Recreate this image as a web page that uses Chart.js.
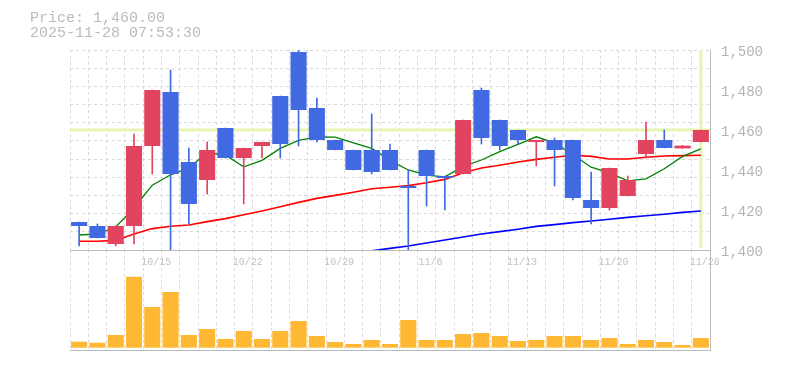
<!DOCTYPE html>
<html lang="ja">
<head>
  <meta charset="UTF-8">
  <title>Price chart</title>
  <script src="https://cdn.jsdelivr.net/npm/chart.js"></script>
  <style>
    * { box-sizing: border-box; }
    body {
      margin: 0;
      padding: 0;
      background: #ffffff;
    }
    .wrap {
      position: relative;
      width: 785px;
      height: 370px;
      overflow: hidden;
    }
    .wrap canvas { position: absolute; left: 0; }
    #priceChart { top: 0; z-index: 2; }
    #volChart { top: 250px; z-index: 1; }
    .info {
      position: absolute;
      left: 30px;
      top: 11px;
      font-family: "Liberation Mono", "DejaVu Sans Mono", monospace;
      font-size: 15px;
      line-height: 15px;
      color: #bbbbbb;
      white-space: pre;
      z-index: 3;
    }
  </style>
</head>
<body>
  <div class="wrap">
    <div class="info">Price: 1,460.00
2025-11-28 07:53:30</div>
    <canvas id="volChart" width="785" height="101"></canvas>
    <canvas id="priceChart" width="785" height="270"></canvas>
  </div>

  <script>
    const dates = ['10/8','10/9','10/10','10/14','10/15','10/16','10/17','10/20','10/21','10/22',
      '10/23','10/24','10/27','10/28','10/29','10/30','10/31','11/4','11/5','11/6',
      '11/7','11/10','11/11','11/12','11/13','11/14','11/17','11/18','11/19','11/20',
      '11/21','11/25','11/26','11/27','11/28'];

    const opens  = [1414, 1412, 1403, 1412, 1452, 1479, 1444, 1435, 1461, 1446,
      1452, 1477, 1499, 1471, 1455, 1450, 1450, 1450, 1432, 1450,
      1437, 1438, 1480, 1465, 1460, 1454, 1455, 1455, 1425, 1421,
      1427, 1448, 1455, 1450.8, 1454];
    const highs  = [1414, 1413, 1412, 1458, 1480, 1490, 1451, 1454, 1461, 1451,
      1454, 1477, 1500, 1476, 1455, 1450, 1468, 1453, 1440, 1450,
      1437, 1465, 1481, 1465, 1460, 1455, 1456, 1455, 1439, 1441,
      1437, 1464, 1460, 1452.2, 1460];
    const lows   = [1402, 1406, 1402, 1403, 1438, 1398, 1413, 1428, 1446, 1423,
      1446, 1446, 1452, 1454, 1450, 1440, 1438, 1440, 1398, 1422,
      1420, 1438, 1453, 1450, 1453, 1442, 1432, 1425, 1413, 1420,
      1427, 1446, 1451, 1450.8, 1454];
    const closes = [1412, 1406, 1412, 1452, 1480, 1438, 1423, 1450, 1446, 1451,
      1454, 1453, 1470, 1455, 1450, 1440, 1439, 1440, 1431, 1437,
      1436, 1465, 1456, 1452, 1455, 1455, 1450, 1426, 1421, 1441,
      1435, 1455, 1451, 1452.2, 1460];

    const ma5  = [1407.5, 1408, 1411.5, 1421, 1432.4, 1437.6, 1441, 1448.6, 1447.4, 1441.6,
      1444.8, 1450.8, 1454.8, 1456.6, 1456.4, 1453.6, 1450.8, 1444.8, 1440, 1437.4,
      1436.6, 1441.8, 1445, 1449.2, 1452.8, 1456.6, 1453.6, 1447.6, 1441.4, 1438.6,
      1434.6, 1435.6, 1440.6, 1446.8, 1450.6];
    const ma25 = [1404.4, 1404.4, 1404.8, 1408, 1410.7, 1411.9, 1412.5, 1414.2, 1415.7, 1417.6,
      1419.5, 1421.6, 1423.8, 1425.8, 1427.3, 1428.9, 1430.6, 1431.4, 1432.2, 1433.6,
      1435.3, 1438.6, 1441, 1442.4, 1444, 1445.3, 1446.4, 1447.4, 1446.8, 1445.5,
      1445.5, 1446.4, 1447, 1447.2, 1447.4];
    const ma75 = [null, null, null, null, null, null, null, null, null, null,
      null, null, null, null, null, 1398, 1399.6, 1400.8, 1402, 1403.5,
      1405, 1406.5, 1408, 1409.2, 1410.4, 1411.8, 1412.7, 1413.7, 1414.5, 1415.4,
      1416.3, 1417.1, 1417.9, 1418.8, 1419.5];

    const volumes = [6000, 5000, 12700, 71000, 40700, 55700, 12700, 18700, 8700, 16700,
      8700, 16700, 26700, 11700, 5700, 3700, 7700, 3700, 27700, 7700,
      7700, 13700, 14700, 11700, 6700, 7700, 11700, 11700, 7700, 9700,
      3700, 7700, 5700, 2700, 9700];

    const priceTicks = [1400, 1420, 1440, 1460, 1480, 1500];
    const lastPrice = 1460;

    const UP = '#e2445f';
    const DOWN = '#4169e1';
    const GRID = '#dadada';
    const AXIS = '#bbbbbb';
    const MONO = '"Liberation Mono", "DejaVu Sans Mono", monospace';

    const candleColors = closes.map((c, i) => c >= opens[i] ? UP : DOWN);

    // current price line + last day line, behind everything
    const refLines = {
      id: 'refLines',
      beforeDatasetsDraw(chart) {
        const { ctx, chartArea: a, scales: { x, y } } = chart;
        const py = y.getPixelForValue(lastPrice);
        const px = x.getPixelForValue(dates.length - 1);
        ctx.save();
        ctx.strokeStyle = '#e6f5b2';
        ctx.lineWidth = 3;
        ctx.beginPath();
        ctx.moveTo(a.left, py);
        ctx.lineTo(a.right, py);
        ctx.moveTo(px, a.top);
        ctx.lineTo(px, a.bottom - 2);
        ctx.stroke();
        ctx.restore();
      }
    };

    Chart.defaults.font.family = MONO;

    new Chart(document.getElementById('priceChart'), {
      type: 'bar',
      data: {
        labels: dates,
        datasets: [
          {
            label: 'body',
            data: opens.map((o, i) => [o, closes[i]]),
            backgroundColor: candleColors,
            barPercentage: 0.88,
            categoryPercentage: 1,
            grouped: false,
            clip: 0,
            order: 1
          },
          {
            label: 'wick',
            data: lows.map((l, i) => [l, highs[i]]),
            backgroundColor: candleColors,
            barThickness: 1,
            grouped: false,
            clip: 0,
            order: 2
          },
          { type: 'line', label: 'MA5', data: ma5, borderColor: '#008000', borderWidth: 1.3, pointRadius: 0, order: 3 },
          { type: 'line', label: 'MA25', data: ma25, borderColor: '#ff0000', borderWidth: 1.6, pointRadius: 0, order: 4 },
          { type: 'line', label: 'MA75', data: ma75, borderColor: '#0000ff', borderWidth: 1.6, pointRadius: 0, order: 5 }
        ]
      },
      options: {
        responsive: false,
        animation: false,
        layout: { padding: { top: 50, left: 70, right: 0, bottom: 0 } },
        plugins: { legend: { display: false }, tooltip: { enabled: false } },
        scales: {
          x: {
            grid: { color: GRID, offset: true, drawTicks: false },
            border: { display: true, color: AXIS, dash: [3, 3] },
            ticks: {
              autoSkip: false,
              maxRotation: 0,
              padding: 6,
              labelOffset: 4,
              color: '#c2c2c2',
              font: { size: 10, family: MONO },
              callback: (v, i) => (i % 5 === 4 ? dates[i] : '')
            },
            afterFit: s => { s.height = 20; }
          },
          y: {
            position: 'right',
            min: 1400,
            max: 1500,
            afterBuildTicks: s => { s.ticks = priceTicks.map(v => ({ value: v })); },
            grid: { display: false, drawTicks: false },
            border: { display: true, color: AXIS },
            ticks: {
              padding: 11,
              labelOffset: 2,
              color: '#b4b4b4',
              font: { size: 14, family: MONO },
              callback: v => v.toLocaleString('en-US')
            },
            afterFit: s => { s.width = 75; }
          },
          yg: {
            position: 'left',
            min: 0,
            max: 11,
            ticks: { display: false, stepSize: 1 },
            grid: { color: GRID, drawTicks: false },
            border: { display: false, dash: [3, 3] },
            afterFit: s => { s.width = 0; }
          }
        }
      },
      plugins: [refLines]
    });

    new Chart(document.getElementById('volChart'), {
      type: 'bar',
      data: {
        labels: dates,
        datasets: [{
          label: 'Volume',
          data: volumes,
          backgroundColor: '#ffb833',
          barPercentage: 0.88,
          categoryPercentage: 1
        }]
      },
      options: {
        responsive: false,
        animation: false,
        layout: { padding: { top: 0, left: 70, right: 0, bottom: 1 } },
        plugins: { legend: { display: false }, tooltip: { enabled: false } },
        scales: {
          x: {
            grid: { color: GRID, offset: true, drawTicks: false },
            border: { display: true, color: AXIS, dash: [3, 3] },
            ticks: { display: false },
            afterFit: s => { s.height = 0; }
          },
          y: {
            position: 'right',
            min: -2300,
            max: 97700,
            grid: { display: false, drawTicks: false },
            border: { display: true, color: AXIS },
            ticks: { display: false },
            afterFit: s => { s.width = 75; }
          }
        }
      }
    });
  </script>
</body>
</html>
